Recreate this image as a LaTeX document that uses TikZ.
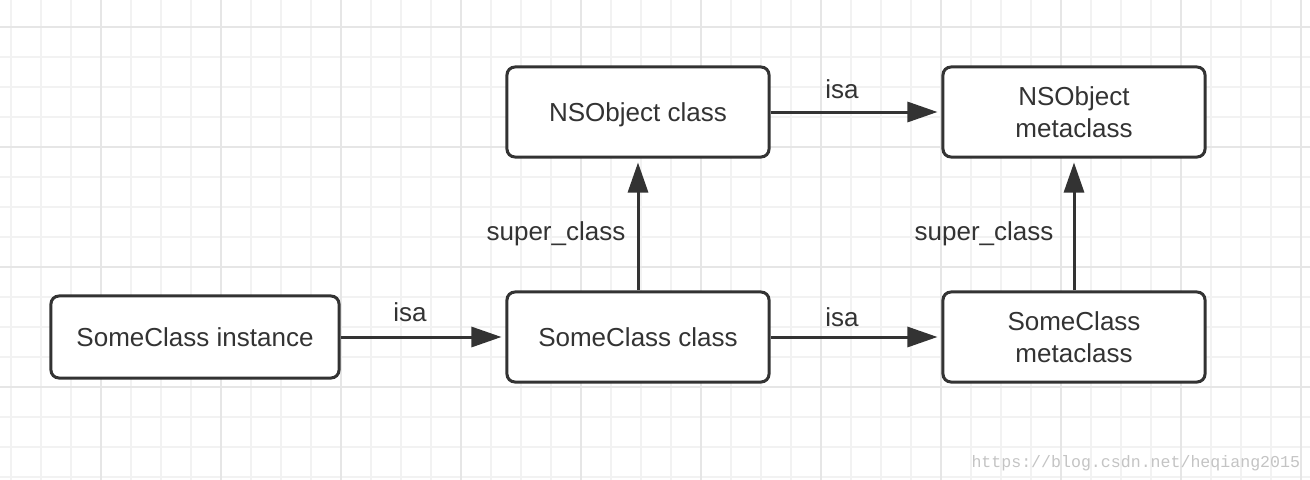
\documentclass[tikz,border=0pt]{standalone}
\usepackage{fontspec}
\setmainfont{Liberation Sans}
\newfontfamily\wmfont{Liberation Mono}
\usetikzlibrary{arrows.meta,positioning}
\definecolor{ink}{HTML}{333333}
\definecolor{gridminor}{HTML}{F2F2F2}
\definecolor{gridmajor}{HTML}{E6E6E6}
\definecolor{wmgray}{HTML}{C4C4C4}

\begin{document}
\begin{tikzpicture}[
    x=0.025cm, y=-0.025cm,
    font=\fontsize{18.5}{22.7}\selectfont,
    >={Triangle[length=7.5mm,width=5mm]},
    line width=0.075cm,
    objbox/.style = {draw=ink, fill=white, text=ink, rounded corners=2mm,
                     minimum width=6.55cm, minimum height=2.25cm,
                     align=center, inner sep=2pt},
    link/.style   = {draw=ink, ->, shorten >=1mm},
    lbl/.style    = {text=ink, anchor=base, inner sep=0pt},
    minor/.style  = {draw=gridminor, line width=0.04cm},
    major/.style  = {draw=gridmajor, line width=0.04cm},
  ]
  \useasboundingbox (0,0) rectangle (1310,480);

  % --- Grid paper --------------------------------------------------------
  \fill[white] (0,0) rectangle (1310,480);
  \foreach \x in {11,41,...,1310} \draw[minor] (\x,0) -- (\x,480);
  \foreach \y in {27,57,...,480} \draw[minor] (0,\y) -- (1310,\y);
  \foreach \x in {101,221,...,1310} \draw[major] (\x,0) -- (\x,480);
  \foreach \y in {27,147,...,480} \draw[major] (0,\y) -- (1310,\y);

  % --- Objects -----------------------------------------------------------
  \node[objbox, minimum width=7.2cm, minimum height=2.05cm] (inst)
    at (195,337) {SomeClass instance};
  \node[objbox] (cls)  at (638,337)  {SomeClass class};
  \node[objbox] (scm)  at (1074,337) {SomeClass\\metaclass};
  \node[objbox, text depth=0pt] (nsc) at (638,112) {NSObject class};
  \node[objbox] (nsm)  at (1074,112) {NSObject\\metaclass};

  % --- isa links ---------------------------------------------------------
  \draw[link] (inst.east) -- (cls.west);
  \draw[link] (cls.east) -- (scm.west);
  \draw[link] (nsc.east) -- (nsm.west);
  \node[lbl] (isa1) at (410,321) {isa};
  \node[lbl] (isa2) at (842,326) {isa};
  \node[lbl] (isa3) at (842,98)  {isa};

  % --- super_class links -------------------------------------------------
  \draw[link] (cls.north) -- (nsc.south);
  \draw[link] (scm.north) -- (nsm.south);
  \node[lbl] (sup1) at (556,240) {super\_class};
  \node[lbl] (sup2) at (984,240) {super\_class};

  % --- Watermark ---------------------------------------------------------
  \node[anchor=base west, inner sep=0pt, text=wmgray,
        font=\wmfont\fontsize{11.8}{14}\selectfont] (wm)
    at (970,467) {https://blog.csdn.net/heqiang2015};
\end{tikzpicture}
\end{document}
